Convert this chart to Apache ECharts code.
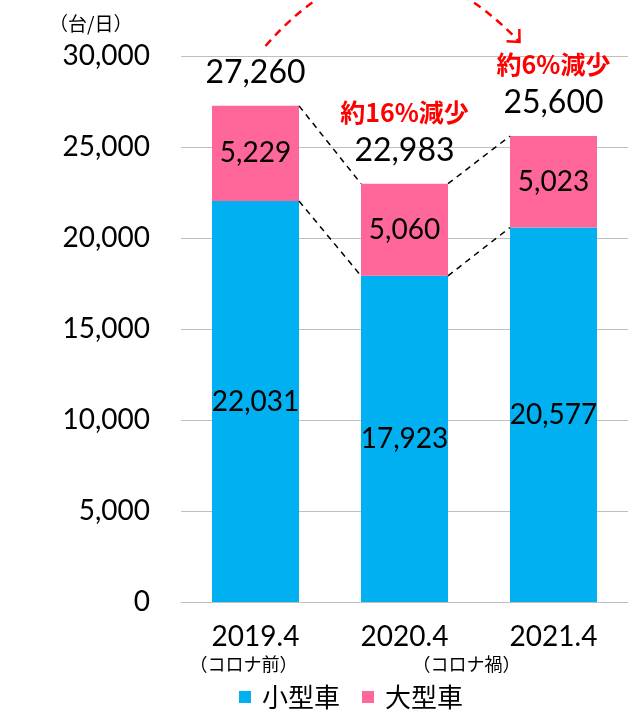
<!DOCTYPE html>
<html>
<head>
<meta charset="utf-8">
<script src="https://cdn.jsdelivr.net/npm/echarts@6/dist/echarts.min.js"></script>
<style>
  html, body { margin: 0; padding: 0; background: #fff; }
  #chart { width: 635px; height: 721px; }
</style>
</head>
<body>
<div id="chart"></div>
<script>
// data
const categories = ['2019.4', '2020.4', '2021.4'];
const subNotes = ['（コロナ前）', '（コロナ禍）', ''];
const smallCars = [22031, 17923, 20577];
const largeCars = [5229, 5060, 5023];
const totals = [27260, 22983, 25600];
const changeNotes = ['', '約16%減少', '約6%減少'];
const yTicks = [0, 5000, 10000, 15000, 20000, 25000, 30000];

const BLUE = '#00B0F0';
const PINK = '#FF6699';
const NUM_FONT = 'Lato, "Noto Sans", sans-serif';
const JP_FONT = '"Noto Sans CJK JP", sans-serif';
const BAR_RATIO = 0.584;

const fmt = v => v.toLocaleString('en-US');

// connector rows: [index, small_i, total_i, small_next, total_next]
const connectors = [];
for (let i = 0; i < categories.length - 1; i++) {
  connectors.push([i, smallCars[i], totals[i], smallCars[i + 1], totals[i + 1]]);
}

const chart = echarts.init(document.getElementById('chart'));

const option = {
  animation: false,
  grid: { left: 181, right: 7, top: 56, bottom: 119 },
  legend: {
    data: ['小型車', '大型車'],
    left: 234,
    bottom: 6,
    itemWidth: 12,
    itemHeight: 12,
    itemGap: 22,
    icon: 'rect',
    textStyle: { fontFamily: JP_FONT, fontSize: 26, color: '#000', padding: [0, 0, 0, 6] }
  },
  xAxis: {
    type: 'category',
    data: categories,
    axisTick: { show: false },
    axisLine: { lineStyle: { color: '#BFBFBF', width: 1 } },
    axisLabel: { color: '#000', fontFamily: NUM_FONT, fontSize: 28, margin: 21 }
  },
  yAxis: {
    type: 'value',
    min: yTicks[0],
    max: yTicks[yTicks.length - 1],
    interval: yTicks[1] - yTicks[0],
    axisLine: { show: false },
    axisTick: { show: false },
    splitLine: { lineStyle: { color: '#BFBFBF', width: 1 } },
    axisLabel: { color: '#000', fontFamily: NUM_FONT, fontSize: 28, margin: 31, formatter: v => fmt(v) }
  },
  series: [
    {
      name: '小型車',
      type: 'bar',
      stack: 'total',
      barWidth: (BAR_RATIO * 100) + '%',
      data: smallCars,
      itemStyle: { color: BLUE },
      label: {
        show: true, position: 'inside', color: '#000',
        fontFamily: NUM_FONT, fontSize: 28, formatter: p => fmt(p.value)
      }
    },
    {
      name: '大型車',
      type: 'bar',
      stack: 'total',
      data: largeCars,
      itemStyle: { color: PINK },
      label: {
        show: true, position: 'inside', color: '#000',
        fontFamily: NUM_FONT, fontSize: 28, formatter: p => fmt(p.value)
      }
    },
    {
      name: '合計',
      type: 'scatter',
      data: totals,
      symbolSize: 1,
      itemStyle: { color: 'rgba(0,0,0,0)', opacity: 1 },
      z: 5,
      label: {
        show: true,
        position: 'top',
        distance: 16,
        formatter: p => (changeNotes[p.dataIndex] ? '{red|' + changeNotes[p.dataIndex] + '}\n' : '') + '{num|' + fmt(p.value) + '}',
        rich: {
          num: { fontFamily: NUM_FONT, fontSize: 32, color: '#000', lineHeight: 34 },
          red: { fontFamily: JP_FONT, fontSize: 25, fontWeight: 'bold', color: '#FF0000', lineHeight: 42 }
        }
      }
    },
    {
      name: 'connector',
      type: 'custom',
      data: connectors,
      z: 10,
      silent: true,
      renderItem: (params, api) => {
        const i = api.value(0);
        const half = api.size([1, 0])[0] * BAR_RATIO / 2;
        const a1 = api.coord([i, api.value(1)]);
        const a2 = api.coord([i, api.value(2)]);
        const b1 = api.coord([i + 1, api.value(3)]);
        const b2 = api.coord([i + 1, api.value(4)]);
        const style = { stroke: '#000', lineWidth: 1.5, lineDash: [6, 5] };
        return {
          type: 'group',
          children: [
            { type: 'line', shape: { x1: a1[0] + half, y1: a1[1], x2: b1[0] - half, y2: b1[1] }, style },
            { type: 'line', shape: { x1: a2[0] + half, y1: a2[1], x2: b2[0] - half, y2: b2[1] }, style }
          ]
        };
      }
    }
  ]
};

chart.setOption(option);

// annotations placed from the axes
const top0 = chart.convertToPixel({ gridIndex: 0 }, [0, yTicks[yTicks.length - 1]]);
const top2 = chart.convertToPixel({ gridIndex: 0 }, [2, yTicks[yTicks.length - 1]]);
const base = chart.convertToPixel({ gridIndex: 0 }, [0, 0]);

const start = [top0[0] + 10, top0[1] - 10];
const end = [top2[0] - 34, top2[1] - 14];
const ctrl = [(start[0] + end[0]) / 2 - 4, top0[1] - 151];
const dir = Math.atan2(ctrl[1] - end[1], ctrl[0] - end[0]);
const barb = 13;
const p1 = [end[0] + barb * Math.cos(dir + 0.75), end[1] + barb * Math.sin(dir + 0.75)];
const p2 = [end[0] + barb * Math.cos(dir - 0.75), end[1] + barb * Math.sin(dir - 0.75)];

const graphics = [
  {
    type: 'text', left: 49, top: 14,
    style: { text: '（台/日）', fontFamily: JP_FONT, fontSize: 19, fill: '#000' }
  },
  {
    type: 'bezierCurve',
    shape: { x1: start[0], y1: start[1], x2: end[0], y2: end[1], cpx1: ctrl[0], cpy1: ctrl[1] },
    style: { stroke: '#FF0000', lineWidth: 2.5, lineDash: [8, 6], fill: null }
  },
  {
    type: 'polyline',
    shape: { points: [p1, end, p2] },
    style: { stroke: '#FF0000', lineWidth: 2.5, fill: null }
  }
];
const noteShift = [-12, 62, 0];
subNotes.forEach((t, i) => {
  if (!t) return;
  const c = chart.convertToPixel({ gridIndex: 0 }, [i, 0]);
  graphics.push({
    type: 'text',
    x: c[0] + noteShift[i], y: base[1] + 62,
    style: { text: t, fontFamily: JP_FONT, fontSize: 18, fill: '#000', align: 'center', verticalAlign: 'middle' }
  });
});

chart.setOption({ graphic: graphics });
</script>
</body>
</html>
